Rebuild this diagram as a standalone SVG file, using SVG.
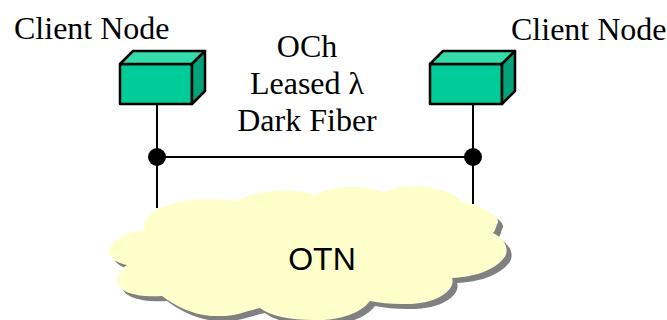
<svg xmlns="http://www.w3.org/2000/svg" width="667" height="320" viewBox="0 0 667 320">
<style>
.t{font-family:"Liberation Serif","Times New Roman",serif;font-size:32px;fill:#000}
.s{font-family:"Liberation Sans",Arial,sans-serif;font-size:32px;fill:#000}
.l{stroke:#000;stroke-width:2;fill:none}
.e{stroke:#000;stroke-width:2.5;stroke-linejoin:round}
.f{fill:#00cc99}.p{fill:#33dcaa}.r{fill:#00a37a}
</style>
<defs>
<path id="cloud" d="M145 230C139 211 178 193 237 201C255 190 292 187 315 195C335 184 365 185 383 192C410 181 450 187 462 202C485 205 503 219 497 224C496 228 495 231 493 233C507 240 510 252 503 259C494 270 475 277 452 278C456 288 440 305 402 304C390 304 380 303 370 301C358 317 330 321 313 320C290 320 270 316 260 308C245 311 235 317 215 316C195 316 175 306 162 296C130 298 112 288 118 277C119 272 122 268 127 265C112 262 106 254 110 247C115 238 130 231 145 230Z"/>
<g id="box"><rect class="e f" x="0" y="0" width="72" height="40"/><path class="e p" d="M0 0L13 -13H85L72 0Z"/><path class="e r" d="M72 0L85 -13V27L72 40Z"/></g>
</defs>
<g id="connectors">
<path class="l" d="M157 100V208M473 100V204M157 157H473"/>
<circle cx="157" cy="157" r="9"/>
<circle cx="473" cy="157" r="9"/>
</g>
<g id="otn">
<use href="#cloud" x="5" y="5" fill="#808080"/>
<use href="#cloud" fill="#ffffcc"/>
<text class="s" x="322" y="270" text-anchor="middle">OTN</text>
</g>
<g id="client-left"><use href="#box" x="120" y="64"/><text class="t" x="14" y="39">Client Node</text></g>
<g id="client-right"><use href="#box" x="430" y="64"/><text class="t" x="511" y="40">Client Node</text></g>
<g id="link-label">
<text class="t" x="307" y="57" text-anchor="middle">OCh</text>
<text class="t" x="307" y="94" text-anchor="middle">Leased λ</text>
<text class="t" x="307" y="131" text-anchor="middle">Dark Fiber</text>
</g>
</svg>
